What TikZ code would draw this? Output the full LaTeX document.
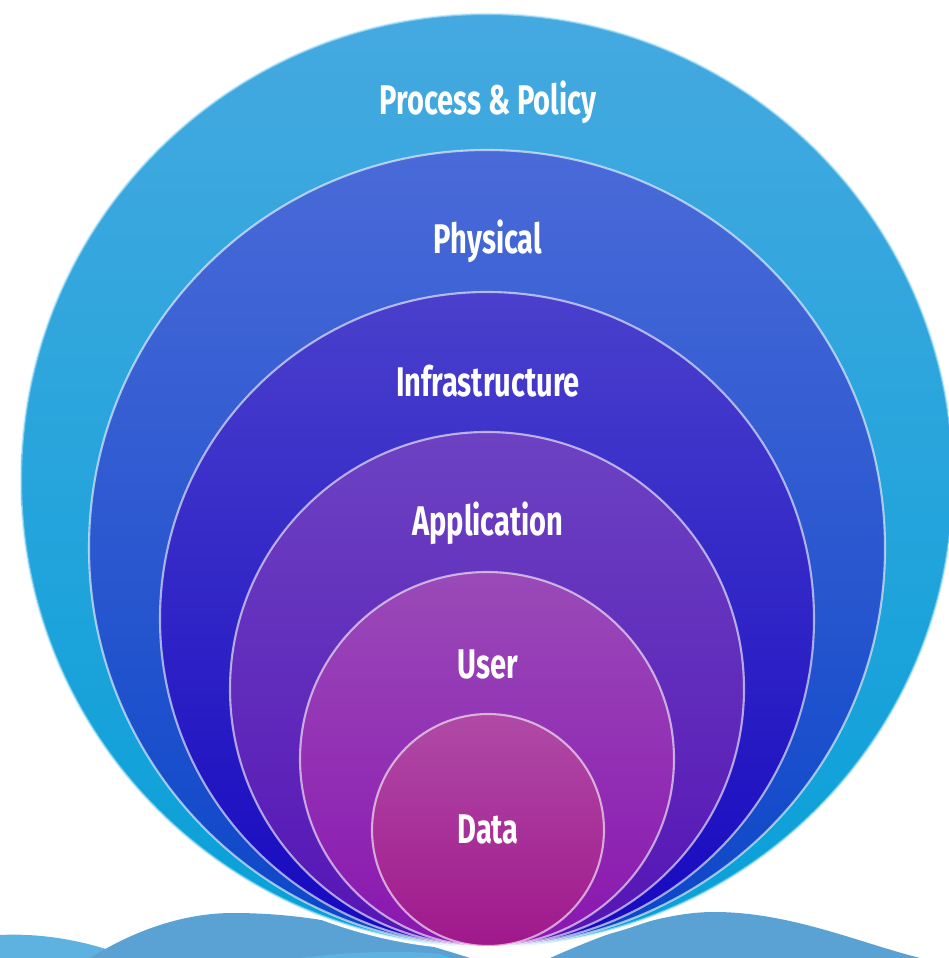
\documentclass[tikz,border=0pt]{standalone}
\usepackage{fontspec}
\setmainfont{Fira Sans}
\newcommand{\narrow}[1]{\scalebox{0.7}[1]{#1}}
\definecolor{policyTop}{HTML}{45A9E0}
\definecolor{policyBot}{HTML}{08A0D8}
\definecolor{physTop}{HTML}{4A6AD8}
\definecolor{physBot}{HTML}{0B46C8}
\definecolor{infraTop}{HTML}{4A40CC}
\definecolor{infraBot}{HTML}{1508C0}
\definecolor{appTop}{HTML}{6C42C2}
\definecolor{appBot}{HTML}{5514B5}
\definecolor{userTop}{HTML}{9A4AB8}
\definecolor{userBot}{HTML}{8A16B0}
\definecolor{dataTop}{HTML}{B04AA6}
\definecolor{dataBot}{HTML}{A0188C}
\definecolor{waveBlue}{HTML}{5AA2D3}
\definecolor{waveLight}{HTML}{5EB2E0}
\tikzset{
  ring/.style={line width=0.6pt, draw=white, draw opacity=0.6},
  lbl/.style={text=white, inner sep=0pt,
    font=\fontsize{11.8}{14}\selectfont\bfseries}
}
\begin{document}
\begin{tikzpicture}[x=0.1mm,y=0.1mm]
    \useasboundingbox (0,0) rectangle (948,958);
    % Waves along the bottom
    \fill[waveLight] (0,0) -- (0,23) .. controls (40,25) and (80,18) .. (115,6) -- (115,0) -- cycle;
    \fill[waveBlue] (90,0) .. controls (130,25) and (180,45) .. (233,45)
         .. controls (320,45) and (390,25) .. (470,0) -- cycle;
    \fill[waveLight] (300,0) .. controls (350,6) and (400,8) .. (440,4) -- (450,0) -- cycle;
    \fill[waveBlue] (550,0) .. controls (600,22) and (660,46) .. (714,46)
         .. controls (790,46) and (860,15) .. (920,0) -- cycle;
    % White gap between the waves and the layers
    \draw[white,line width=2.2pt] (487,478) circle[radius=466];
    % Nested layers, all touching at the bottom
    \draw[ring,top color=policyTop,bottom color=policyBot,draw=cyan!30] (487,478) circle[radius=466];
    \draw[ring,top color=physTop,bottom color=physBot] (487,410) circle[radius=398];
    \draw[ring,top color=infraTop,bottom color=infraBot] (487,339) circle[radius=327];
    \draw[ring,top color=appTop,bottom color=appBot] (487,269) circle[radius=257];
    \draw[ring,top color=userTop,bottom color=userBot] (487,199) circle[radius=187];
    \draw[ring,top color=dataTop,bottom color=dataBot] (488,128) circle[radius=116];
    % Labels
    \node[lbl] (policy) at (488,856) {\narrow{Process \& Policy}};
    \node[lbl] (physical) at (488,717) {\narrow{Physical}};
    \node[lbl] (infra) at (488,577) {\narrow{Infrastructure}};
    \node[lbl] (app) at (488,435) {\narrow{Application}};
    \node[lbl] (user) at (488,294) {\narrow{User}};
    \node[lbl] (data) at (488,129) {\narrow{Data}};
\end{tikzpicture}
\end{document}
